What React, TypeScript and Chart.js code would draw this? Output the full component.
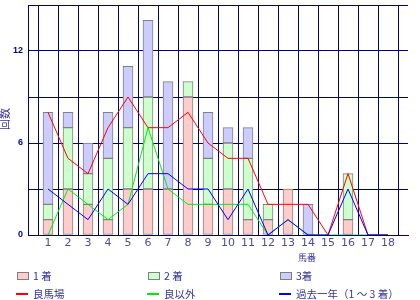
import React, { useEffect, useRef } from 'react';
import { Chart, registerables } from 'chart.js';

Chart.register(...registerables);

// Categories (horse numbers)
const horseNumbers = ['1', '2', '3', '4', '5', '6', '7', '8', '9', '10', '11', '12', '13', '14', '15', '16', '17', '18'];

// Stacked bar series
const firstPlace = [1, 3, 2, 1, 3, 3, 3, 9, 2, 3, 1, 1, 3, 0, 0, 1, 0, 0];
const secondPlace = [1, 4, 2, 4, 4, 6, 0, 1, 3, 3, 4, 1, 0, 0, 0, 3, 0, 0];
const thirdPlace = [6, 1, 2, 3, 4, 5, 7, 0, 3, 1, 2, 0, 0, 2, 0, 0, 0, 0];

// Line series
const goodTrack = [8, 5, 4, 7, 9, 7, 7, 8, 6, 5, 5, 2, 2, 2, 0, 4, 0, 0];
const otherTrack = [0, 3, 2, 1, 2, 7, 3, 2, 2, 2, 2, 0, 1, 0, 0, 0, 0, 0];
const pastYear = [3, 2, 1, 3, 2, 4, 4, 3, 3, 1, 3, 0, 1, 0, 0, 3, 0, 0];

// Labelled y ticks
const yLabelledTicks = [0, 6, 12];

const NAVY = '#000080';
const TEXT = '#333399';

const toPoints = (arr: number[]) => arr.map((v, i) => ({ x: i + 1, y: v }));

const overlayPlugin = {
  id: 'overlay',
  afterDraw(chart: any) {
    const ctx = chart.ctx as CanvasRenderingContext2D;
    const ds = chart.data.datasets;
    ctx.save();
    // y axis title
    ctx.fillStyle = TEXT;
    ctx.font = '11px "Noto Sans CJK JP"';
    ctx.textAlign = 'center';
    ctx.textBaseline = 'middle';
    ctx.save();
    ctx.translate(5, 119);
    ctx.rotate(-Math.PI / 2);
    ctx.fillText('回数', 0, 0);
    ctx.restore();
    // x axis title
    ctx.font = '9px "Noto Sans CJK JP"';
    ctx.fillText('馬番', 307, 258);

    // legend
    const cols = [17, 148, 280];
    const bars = ds.filter((d: any) => d.type === 'bar');
    const lines = ds.filter((d: any) => d.type === 'line');
    const lineOrder = ['良馬場', '良以外', '過去一年（1 ～ 3 着）'];
    ctx.font = '10.5px "Noto Sans CJK JP"';
    ctx.textAlign = 'left';
    bars.forEach((d: any, i: number) => {
      const x = cols[i];
      ctx.fillStyle = d.backgroundColor;
      ctx.fillRect(x, 272, 12, 8);
      ctx.strokeStyle = '#808080';
      ctx.lineWidth = 1;
      ctx.strokeRect(x + 0.5, 272.5, 11, 7);
      ctx.fillStyle = TEXT;
      ctx.fillText(d.label, x + 16, 276);
    });
    lineOrder.forEach((lbl, i) => {
      const d = lines.find((l: any) => l.label === lbl);
      const x = cols[i];
      ctx.strokeStyle = d.borderColor;
      ctx.lineWidth = 2;
      ctx.beginPath();
      ctx.moveTo(x - 1, 294);
      ctx.lineTo(x + 11, 294);
      ctx.stroke();
      ctx.fillStyle = TEXT;
      ctx.fillText(lbl, x + 16, 294.5);
    });
    ctx.restore();
  },
};

export default function App() {
  const ref = useRef<HTMLCanvasElement>(null);

  useEffect(() => {
    if (!ref.current) return;
    const barCommon = {
      type: 'bar' as const,
      borderColor: '#808080',
      borderWidth: 1,
      borderSkipped: false,
      barThickness: 10,
      stack: 'bars',
      order: 5,
    };
    const lineCommon = {
      type: 'line' as const,
      borderWidth: 1,
      pointRadius: 0,
      tension: 0,
      fill: false,
    };
    const chart = new Chart(ref.current, {
      type: 'bar',
      data: {
        datasets: [
          { ...lineCommon, label: '過去一年（1 ～ 3 着）', data: toPoints(pastYear), borderColor: '#0000ff', stack: 'l3', order: 0 },
          { ...lineCommon, label: '良馬場', data: toPoints(goodTrack), borderColor: '#ff0000', stack: 'l1', order: 1 },
          { ...lineCommon, label: '良以外', data: toPoints(otherTrack), borderColor: '#00ee00', stack: 'l2', order: 2 },
          { ...barCommon, label: '1 着', data: toPoints(firstPlace), backgroundColor: '#ffcccc' },
          { ...barCommon, label: '2 着', data: toPoints(secondPlace), backgroundColor: '#ccffcc' },
          { ...barCommon, label: '3着', data: toPoints(thirdPlace), backgroundColor: '#ccccff' },
        ] as any,
      },
      options: {
        responsive: false,
        animation: false,
        layout: { padding: { top: 5, right: 12, left: 0, bottom: 0 } },
        plugins: {
          legend: { display: false },
          tooltip: { enabled: false },
        },
        scales: {
          x: {
            type: 'linear',
            min: 0,
            max: horseNumbers.length + 1,
            offset: false,
            stacked: true,
            afterFit: (s: any) => { s.height = 65; s.paddingLeft = 0; s.paddingRight = 0; },
            ticks: {
              stepSize: 1,
              autoSkip: false,
              maxTicksLimit: 100,
              maxRotation: 0,
              padding: 2,
              color: '#4d4d99',
              font: { family: 'DejaVu Sans', size: 11 },
              callback: (v: any) => (v >= 1 && v <= horseNumbers.length ? horseNumbers[v - 1] : ''),
            },
            grid: { color: NAVY, lineWidth: 1, drawTicks: false },
            border: { color: NAVY, width: 1 },
          },
          y: {
            min: 0,
            max: 15,
            stacked: true,
            afterFit: (s: any) => { s.width = 28; s.paddingTop = 0; s.paddingBottom = 0; },
            ticks: {
              stepSize: 3,
              padding: 5,
              color: NAVY,
              font: { family: 'Liberation Sans', size: 9, weight: 'bold' },
              callback: (v: any) => (yLabelledTicks.includes(v) ? String(v) : ''),
            },
            grid: { color: NAVY, lineWidth: 1, drawTicks: false },
            border: { color: NAVY, width: 1 },
          },
        },
      } as any,
      plugins: [overlayPlugin],
    });
    return () => chart.destroy();
  }, []);

  return (
    <div style={{ position: 'fixed', left: 0, top: 0, width: 420, height: 300, background: '#fff' }}>
      <canvas ref={ref} width={420} height={300} style={{ display: 'block' }} />
    </div>
  );
}
